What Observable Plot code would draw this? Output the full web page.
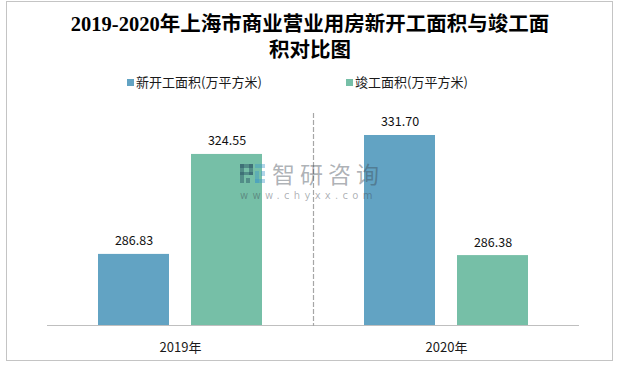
<!DOCTYPE html>
<html><head><meta charset="utf-8">
<script src="https://cdn.jsdelivr.net/npm/d3@7"></script>
<script src="https://cdn.jsdelivr.net/npm/@observablehq/plot@0.6"></script>
<style>
body{margin:0;background:#fff;}
#wrap{position:relative;width:620px;height:365px;overflow:hidden;font-family:"Noto Sans CJK SC","Noto Sans",sans-serif;background:#fff;}
#border{position:absolute;left:6px;top:1px;width:607px;height:360px;border:1px solid #c4c4c4;box-sizing:border-box;pointer-events:none;}
#title{position:absolute;left:0;top:11px;width:620px;text-align:center;font-family:"Liberation Serif","Noto Sans CJK SC",serif;font-weight:bold;font-size:20.5px;line-height:26px;color:#000;}
#legend{position:absolute;top:73px;left:0;width:620px;height:18px;font-size:13px;color:#1a1a1a;}
.li{position:absolute;top:0;white-space:nowrap;line-height:18px;}
.sw{display:inline-block;width:7px;height:7px;margin-right:2px;vertical-align:1px;}
#chart{position:absolute;left:0;top:0;}
#wm{position:absolute;left:240px;top:160px;width:145px;height:42px;pointer-events:none;}
#wm .t{position:absolute;left:32px;top:0;font-size:23px;letter-spacing:5px;color:rgba(60,70,80,0.42);line-height:26px;white-space:nowrap;}
#wm .u{position:absolute;left:0;top:30px;font-size:10px;letter-spacing:4.3px;color:rgba(60,70,80,0.42);line-height:11px;font-family:"DejaVu Sans",sans-serif;white-space:nowrap;}
</style></head><body>
<div id="wrap">
  <div id="chart"></div>
  <div id="title">2019-2020年上海市商业营业用房新开工面积与竣工面<br>积对比图</div>
  <div id="legend"></div>
  <div id="wm">
    <svg width="26" height="20" style="position:absolute;left:0;top:4px">
      <rect x="0" y="0" width="13" height="4" fill="rgba(40,80,100,0.45)"/>
      <rect x="0" y="0" width="4" height="19" fill="rgba(40,80,100,0.45)"/>
      <rect x="9" y="0" width="4" height="11" fill="rgba(40,80,100,0.45)"/>
      <rect x="0" y="8" width="13" height="3" fill="rgba(40,80,100,0.45)"/>
      <rect x="6" y="14" width="4" height="5" fill="rgba(40,80,100,0.45)"/>
      <rect x="15" y="0" width="10" height="4" fill="rgba(60,150,200,0.4)"/>
      <rect x="15" y="7" width="4" height="12" fill="rgba(60,150,200,0.4)"/>
      <rect x="15" y="15" width="10" height="4" fill="rgba(60,150,200,0.4)"/>
      <rect x="21" y="7" width="4" height="5" fill="rgba(60,150,200,0.4)"/>
    </svg>
    <div class="t">智研咨询</div>
    <div class="u">www.chyxx.com</div>
  </div>
  <div id="border"></div>
</div>
<script>
const years = ["2019年", "2020年"];
const series = ["新开工面积(万平方米)", "竣工面积(万平方米)"];
const newStarts = [286.83, 331.70];
const completed = [324.55, 286.38];
const colors = ["#62A3C3", "#76BFA7"];

const data = years.flatMap((y, i) => [
  {year: y, series: series[0], value: newStarts[i]},
  {year: y, series: series[1], value: completed[i]}
]);

const chart = Plot.plot({
  width: 620,
  height: 365,
  marginTop: 113,
  marginBottom: 40,
  marginLeft: 46,
  marginRight: 41,
  style: {fontFamily: "'Noto Sans CJK SC','Noto Sans',sans-serif", fontSize: "13px", color: "#1a1a1a", background: "transparent"},
  fx: {domain: years, padding: 0, axis: "bottom", tickSize: 0, tickPadding: 17, label: null},
  x: {domain: series, paddingInner: 0.24, paddingOuter: 0.55, axis: null},
  y: {domain: [260, 340], axis: null},
  color: {domain: series, range: colors},
  marks: [
    Plot.barY(data, {fx: "year", x: "series", y: "value", fill: "series", clip: true}),
    Plot.ruleY([260], {stroke: "#bfbfbf", strokeWidth: 1.2}),
    Plot.frame({anchor: "left", fx: () => years[1], stroke: "#a6a6a6", strokeWidth: 1.2, strokeDasharray: "4,3"}),
    Plot.text(data, {fx: "year", x: "series", y: "value", text: d => d.value.toFixed(2), dy: -13, fontSize: 12.5, fill: "#111"})
  ]
});
document.getElementById("chart").appendChild(chart);

const legend = document.getElementById("legend");
const legendLeft = [127, 346];
series.forEach((s, i) => {
  const el = document.createElement("div");
  el.className = "li";
  el.style.left = legendLeft[i] + "px";
  el.innerHTML = `<span class="sw" style="background:${colors[i]}"></span>${s}`;
  legend.appendChild(el);
});
</script>
</body></html>
